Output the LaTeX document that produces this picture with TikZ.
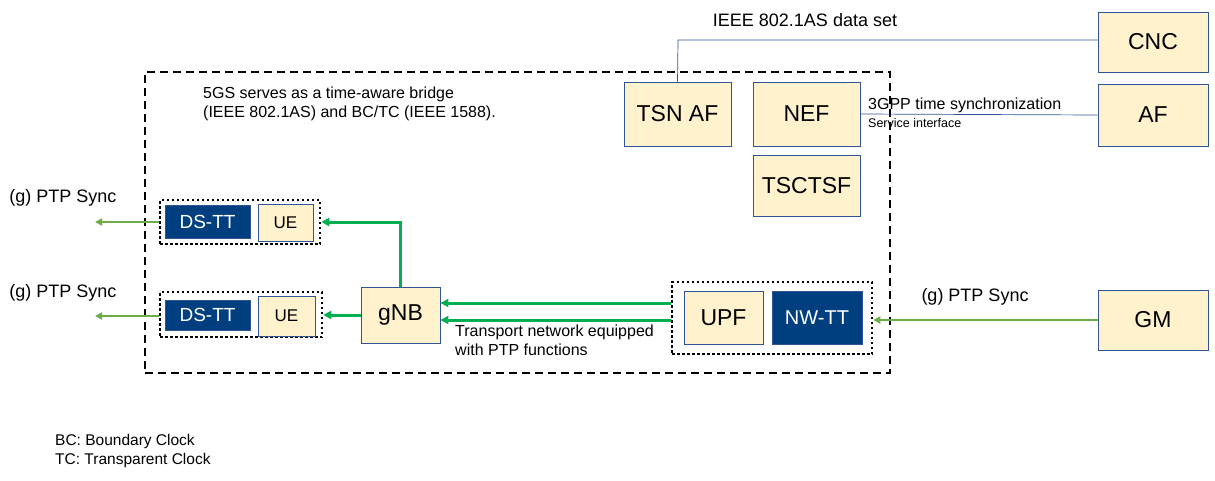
\documentclass[tikz,border=0pt]{standalone}
\usepackage{fontspec}
\setmainfont{Liberation Sans}
\usetikzlibrary{arrows.meta}
\definecolor{boxfill}{HTML}{FFF2CC}
\definecolor{boxline}{HTML}{2F5597}
\definecolor{navy}{HTML}{003F7F}
\definecolor{grn}{HTML}{00B050}
\definecolor{olive}{HTML}{70AD47}
\begin{document}
\begin{tikzpicture}[x=1pt,y=-1pt,
  box/.style={draw=boxline,fill=boxfill,line width=0.8pt,inner sep=0pt},
  dark/.style={draw=boxline,fill=navy,text=white,inner sep=0pt},
  grp/.style={draw=black,dash pattern=on 2.5pt off 2.5pt,line width=2.5pt,inner sep=0pt},
  ga/.style={draw=grn,line width=3pt,-{Triangle[length=8pt,width=8pt]}},
  oa/.style={draw=olive,line width=2.5pt,-{Triangle[length=7pt,width=7pt]}},
  lbl/.style={inner sep=0pt,anchor=west}]
\useasboundingbox (0,0) rectangle (1215,480);
\node[grp,minimum width=745,minimum height=301,dash pattern=on 8pt off 5pt] (big) at (517.5,222.5) {};
% top-right boxes
\node[box,minimum width=110,minimum height=60,font=\fontsize{23}{25}\selectfont] (cnc) at (1153,42) {CNC};
\node[box,minimum width=110,minimum height=62,font=\fontsize{23}{25}\selectfont] (af) at (1153,115) {AF};
\node[box,minimum width=110,minimum height=60,font=\fontsize{23}{25}\selectfont] (gm) at (1153,320) {GM};
\node[box,minimum width=107,minimum height=64,font=\fontsize{23}{25}\selectfont] (tsn) at (677.5,114) {TSN AF};
\node[box,minimum width=107,minimum height=64,font=\fontsize{23}{25}\selectfont] (nef) at (806.5,114) {NEF};
\node[box,minimum width=107,minimum height=61,font=\fontsize{23}{25}\selectfont] (tsc) at (806.5,185.5) {TSCTSF};
\node[font=\fontsize{18}{20}\selectfont] (ieee) at (805,20) {IEEE 802.1AS data set};
\coordinate (c1) at (678,40);
\draw[boxline,line width=0.7pt] (tsn.north) -- (c1) -- (cnc.west |- c1);
\draw[boxline,line width=0.7pt] (nef.east) -- (af.west);
\node[lbl,font=\fontsize{16}{18}\selectfont] (t3) at (868,105) {3GPP time synchronization};
\node[lbl,font=\fontsize{12.5}{14}\selectfont] (t4) at (868,123) {Service interface};
\node[lbl,anchor=north west,align=left,font=\fontsize{16}{19}\selectfont] (t5) at (203,87) {5GS serves as a time-aware bridge\\(IEEE 802.1AS) and BC/TC (IEEE 1588).};
% UE groups
\node[grp,minimum width=160,minimum height=44] (g1) at (240,222) {};
\node[dark,minimum width=85,minimum height=33,font=\fontsize{19}{21}\selectfont] (ds1) at (207.5,221.5) {DS-TT};
\node[box,minimum width=55,minimum height=37,font=\fontsize{17}{19}\selectfont] (ue1) at (285.5,222.5) {UE};
\node[grp,minimum width=162,minimum height=45] (g2) at (241,314.5) {};
\node[dark,minimum width=85,minimum height=30,font=\fontsize{19}{21}\selectfont] (ds2) at (207.5,315) {DS-TT};
\node[box,minimum width=57,minimum height=40,font=\fontsize{17}{19}\selectfont] (ue2) at (286.5,316) {UE};
\node[box,minimum width=79,minimum height=56,font=\fontsize{23}{25}\selectfont] (gnb) at (400.5,315) {gNB};
% UPF group
\node[grp,minimum width=200,minimum height=72] (g3) at (772,318) {};
\node[box,minimum width=79,minimum height=53,font=\fontsize{23}{25}\selectfont] (upf) at (723.5,317.5) {UPF};
\node[dark,minimum width=90,minimum height=53,font=\fontsize{20}{22}\selectfont] (nwtt) at (817,317.5) {NW-TT};
% green arrows
\coordinate (k1) at (400,222);
\draw[ga] (gnb.north -| k1) -- (k1) -- (g1.east |- k1);
\draw[ga] (gnb.west |- 0,315) -- (g2.east |- 0,315);
\draw[ga] (g3.west |- 0,303) -- (gnb.east |- 0,303);
\draw[ga] (g3.west |- 0,320) -- (gnb.east |- 0,320);
\node[lbl,anchor=north west,align=left,font=\fontsize{16}{19}\selectfont] (t6) at (455,325) {Transport network equipped\\with PTP functions};
% olive arrows
\draw[oa] (gm.west) -- (g3.east |- gm.west);
\coordinate (e1) at (95,222);
\coordinate (e2) at (95,316);
\draw[oa] (g1.west |- e1) -- (e1);
\draw[oa] (g2.west |- e2) -- (e2);
\node[font=\fontsize{18}{20}\selectfont] (p1) at (63,198) {(g) PTP Sync};
\node[font=\fontsize{18}{20}\selectfont] (p2) at (63,293) {(g) PTP Sync};
\node[font=\fontsize{18}{20}\selectfont] (p3) at (975,297) {(g) PTP Sync};
\node[lbl,anchor=north west,align=left,font=\fontsize{15.5}{19}\selectfont] (t7) at (55,434) {BC: Boundary Clock\\TC: Transparent Clock};
\end{tikzpicture}
\end{document}
